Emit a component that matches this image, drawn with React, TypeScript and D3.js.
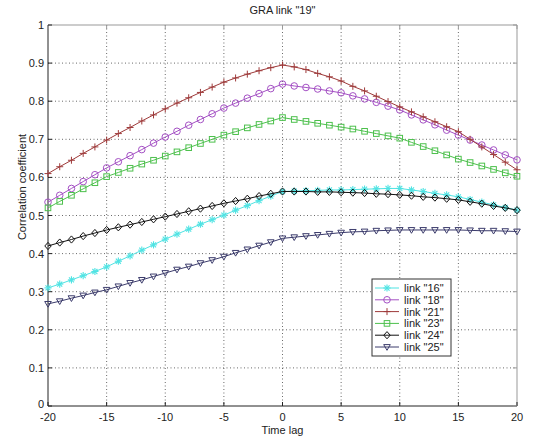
import React from "react";
import * as d3 from "d3";

const lags = d3.range(-20, 21);
const xTicks = [-20, -15, -10, -5, 0, 5, 10, 15, 20];
const yTicks = [0, 0.1, 0.2, 0.3, 0.4, 0.5, 0.6, 0.7, 0.8, 0.9, 1];

const link16 = [0.310, 0.320, 0.331, 0.342, 0.353, 0.365, 0.380, 0.394, 0.409, 0.423, 0.438, 0.451, 0.464, 0.477, 0.489, 0.501, 0.514, 0.526, 0.539, 0.551, 0.563, 0.564, 0.565, 0.566, 0.567, 0.567, 0.568, 0.569, 0.570, 0.571, 0.571, 0.567, 0.563, 0.558, 0.554, 0.549, 0.542, 0.535, 0.528, 0.521, 0.514];
const link18 = [0.535, 0.553, 0.571, 0.589, 0.607, 0.625, 0.641, 0.657, 0.673, 0.690, 0.706, 0.721, 0.737, 0.752, 0.767, 0.782, 0.795, 0.808, 0.820, 0.833, 0.845, 0.840, 0.836, 0.832, 0.827, 0.822, 0.814, 0.806, 0.797, 0.787, 0.777, 0.764, 0.751, 0.738, 0.724, 0.711, 0.698, 0.685, 0.672, 0.659, 0.646];
const link21 = [0.610, 0.628, 0.645, 0.663, 0.680, 0.698, 0.715, 0.731, 0.748, 0.764, 0.780, 0.795, 0.809, 0.823, 0.837, 0.850, 0.861, 0.871, 0.880, 0.888, 0.895, 0.890, 0.883, 0.873, 0.864, 0.853, 0.839, 0.827, 0.813, 0.799, 0.785, 0.772, 0.759, 0.746, 0.733, 0.720, 0.700, 0.680, 0.660, 0.640, 0.620];
const link23 = [0.520, 0.537, 0.553, 0.570, 0.586, 0.602, 0.613, 0.624, 0.635, 0.645, 0.656, 0.667, 0.678, 0.689, 0.700, 0.711, 0.720, 0.730, 0.739, 0.748, 0.757, 0.752, 0.747, 0.742, 0.737, 0.732, 0.727, 0.721, 0.715, 0.709, 0.703, 0.692, 0.681, 0.670, 0.659, 0.648, 0.639, 0.630, 0.621, 0.612, 0.603];
const link24 = [0.420, 0.429, 0.437, 0.446, 0.454, 0.462, 0.469, 0.476, 0.483, 0.490, 0.497, 0.504, 0.511, 0.518, 0.525, 0.532, 0.538, 0.544, 0.551, 0.557, 0.563, 0.563, 0.563, 0.562, 0.562, 0.561, 0.560, 0.559, 0.557, 0.556, 0.554, 0.552, 0.549, 0.547, 0.544, 0.541, 0.536, 0.531, 0.525, 0.520, 0.514];
const link25 = [0.268, 0.275, 0.283, 0.290, 0.298, 0.305, 0.314, 0.323, 0.331, 0.340, 0.349, 0.358, 0.366, 0.375, 0.383, 0.392, 0.402, 0.411, 0.421, 0.430, 0.440, 0.443, 0.446, 0.449, 0.452, 0.455, 0.457, 0.458, 0.460, 0.461, 0.462, 0.462, 0.462, 0.462, 0.462, 0.462, 0.461, 0.460, 0.460, 0.459, 0.458];

const seriesNames = ['link "16"', 'link "18"', 'link "21"', 'link "23"', 'link "24"', 'link "25"'];
const seriesValues = [link16, link18, link21, link23, link24, link25];
const seriesColors = ["#4fe3e3", "#a450c4", "#9e3a3a", "#4cc04c", "#111111", "#3c3c6c"];
const seriesMarkers = ["star", "circle", "plus", "square", "diamond", "triangle"];

const W = 537, H = 439;
const left = 48, right = 517, top = 25, bottom = 406;
const font = "Arial, 'Liberation Sans', Helvetica, sans-serif";

function Marker({ kind, x, y, color }: { kind: string; x: number; y: number; color: string }) {
  const s = 3.6;
  switch (kind) {
    case "star":
      return (
        <g stroke={color} strokeWidth={1.1} fill="none">
          <line x1={x - s} y1={y} x2={x + s} y2={y} />
          <line x1={x} y1={y - s} x2={x} y2={y + s} />
          <line x1={x - s * 0.7} y1={y - s * 0.7} x2={x + s * 0.7} y2={y + s * 0.7} />
          <line x1={x - s * 0.7} y1={y + s * 0.7} x2={x + s * 0.7} y2={y - s * 0.7} />
        </g>
      );
    case "circle":
      return <circle cx={x} cy={y} r={3.3} fill="none" stroke={color} strokeWidth={1} />;
    case "plus":
      return (
        <g stroke={color} strokeWidth={1}>
          <line x1={x - 3.5} y1={y} x2={x + 3.5} y2={y} />
          <line x1={x} y1={y - 3.5} x2={x} y2={y + 3.5} />
        </g>
      );
    case "square":
      return <rect x={x - 2.8} y={y - 2.8} width={5.6} height={5.6} fill="none" stroke={color} strokeWidth={1} />;
    case "diamond":
      return <path d={`M${x},${y - 3.6}L${x + 3.2},${y}L${x},${y + 3.6}L${x - 3.2},${y}Z`} fill="none" stroke={color} strokeWidth={1} />;
    default:
      return <path d={`M${x - 3.3},${y - 2.4}L${x + 3.3},${y - 2.4}L${x},${y + 3.3}Z`} fill="none" stroke={color} strokeWidth={1} />;
  }
}

export default function App() {
  const x = d3.scaleLinear().domain([-20, 20]).range([left, right]);
  const y = d3.scaleLinear().domain([0, 1]).range([bottom, top]);
  const line = d3.line<number>().x((_, i) => x(lags[i])).y((d) => y(d));

  const legX = 372, legY = 279, legW = 79, legH = 77;

  return (
    <svg width={W} height={H} style={{ position: "absolute", left: 0, top: 0, background: "white" }} fontFamily={font}>
      <rect x={0} y={0} width={W} height={H} fill="white" />
      {/* grid */}
      <g stroke="#444" strokeWidth={0.8} strokeDasharray="1,2.5">
        {xTicks.slice(1, -1).map((t) => (
          <line key={"gx" + t} x1={x(t)} x2={x(t)} y1={top} y2={bottom} />
        ))}
        {yTicks.slice(1, -1).map((t) => (
          <line key={"gy" + t} x1={left} x2={right} y1={y(t)} y2={y(t)} />
        ))}
      </g>
      {/* box */}
      <line x1={left} x2={right} y1={top} y2={top} stroke="#999" />
      <line x1={right} x2={right} y1={top} y2={bottom} stroke="#999" />
      <line x1={left} x2={left} y1={top} y2={bottom} stroke="#222" />
      <line x1={left} x2={right} y1={bottom} y2={bottom} stroke="#222" />
      {/* ticks */}
      <g stroke="#222" strokeWidth={1}>
        {xTicks.map((t) => (
          <g key={"tx" + t}>
            <line x1={x(t)} x2={x(t)} y1={bottom} y2={bottom - 4} />
            <line x1={x(t)} x2={x(t)} y1={top} y2={top + 4} stroke="#999" />
          </g>
        ))}
        {yTicks.map((t) => (
          <g key={"ty" + t}>
            <line x1={left} x2={left + 4} y1={y(t)} y2={y(t)} />
            <line x1={right} x2={right - 4} y1={y(t)} y2={y(t)} stroke="#999" />
          </g>
        ))}
      </g>
      {/* tick labels */}
      <g fontSize={11} fill="#222">
        {xTicks.map((t) => (
          <text key={"lx" + t} x={x(t)} y={bottom + 15} textAnchor="middle">{t}</text>
        ))}
        {yTicks.map((t) => (
          <text key={"ly" + t} x={left - 4} y={y(t) + (t === 0 ? 2 : 4)} textAnchor="end">{t === 0 || t === 1 ? String(t) : t.toFixed(1)}</text>
        ))}
      </g>
      {/* series */}
      {seriesValues.map((vals, si) => (
        <g key={"s" + si}>
          <path d={line(vals) || ""} fill="none" stroke={seriesColors[si]} strokeWidth={1} />
          {vals.map((v, i) => (
            <Marker key={i} kind={seriesMarkers[si]} x={x(lags[i])} y={y(v)} color={seriesColors[si]} />
          ))}
        </g>
      ))}
      {/* legend */}
      <rect x={legX} y={legY} width={legW} height={legH} fill="white" stroke="#333" strokeWidth={1} />
      {seriesNames.map((n, i) => {
        const ly = legY + 9 + i * 11.8;
        return (
          <g key={"lg" + i}>
            <line x1={legX + 3} x2={legX + 27} y1={ly} y2={ly} stroke={seriesColors[i]} strokeWidth={1} />
            <Marker kind={seriesMarkers[i]} x={legX + 15} y={ly} color={seriesColors[i]} />
            <text x={legX + 32} y={ly + 4} fontSize={11} fill="#222">{n}</text>
          </g>
        );
      })}
      {/* titles */}
      <text x={(left + right) / 2} y={14} textAnchor="middle" fontSize={11} fill="#222">GRA link "19"</text>
      <text x={(left + right) / 2} y={434} textAnchor="middle" fontSize={11} fill="#222">Time lag</text>
      <text transform={`translate(26, 187) rotate(-90)`} textAnchor="middle" fontSize={11} fill="#222">Correlation coefficient</text>
    </svg>
  );
}
